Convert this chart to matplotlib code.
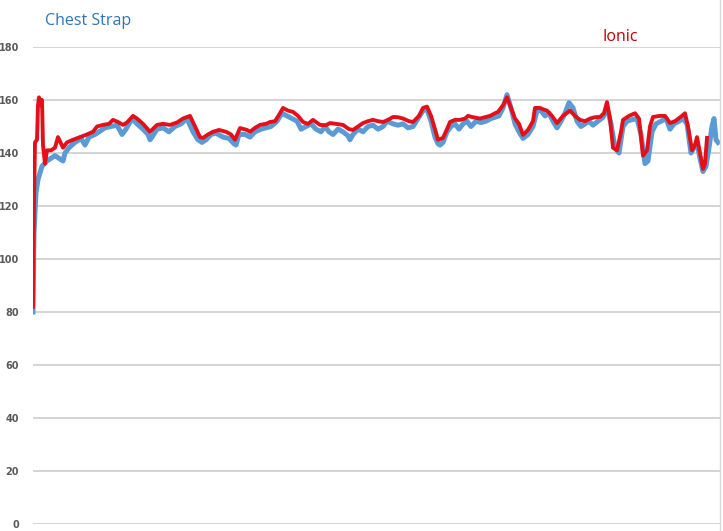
import matplotlib
matplotlib.use("Agg")
import matplotlib.pyplot as plt
from matplotlib.lines import Line2D

# heart rate, elapsed time in sample units
ionic_t = [0, 1, 2, 4, 5, 6, 8, 9, 10, 12, 14, 18, 22, 25, 30, 34, 40, 47, 54, 60,
           64, 70, 76, 80, 85, 90, 94, 100, 104, 110, 117, 124, 130, 137, 144, 150, 157, 162, 167, 170,
           175, 180, 186, 193, 198, 202, 207, 214, 217, 222, 227, 233, 237, 242, 247, 250, 255, 260, 265, 270,
           275, 280, 287, 293, 297, 303, 310, 316, 320, 325, 330, 335, 340, 345, 350, 355, 360, 365, 370, 376,
           380, 386, 390, 394, 398, 402, 405, 410, 414, 417, 422, 427, 432, 435, 440, 447, 452, 457, 462, 465,
           470, 474, 477, 482, 486, 490, 495, 500, 502, 507, 510, 514, 519, 524, 530, 537, 542, 547, 552, 557,
           562, 567, 571, 574, 577, 580, 584, 588, 590, 596, 602, 606, 610, 614, 617, 620, 627, 632, 637, 642,
           649, 652, 655, 659, 662, 664, 667, 670, 672, 674]
ionic_hr = [82, 122, 144, 145, 158, 161, 158, 160, 143, 136, 141, 141, 142, 146, 142, 144, 145, 146, 147, 148,
            150, 150.6, 151, 152.5, 151.7, 150.6, 151.5, 154, 153, 151, 148, 150.6, 151, 150.6, 151.5, 153, 154, 150, 146, 145.7,
            147, 148, 148.7, 148, 147, 145, 149.4, 148.7, 148, 149.5, 150.6, 151, 151.7, 152, 155, 157, 156, 155.5, 154, 151.7,
            151, 152.5, 150.6, 150.5, 151.3, 151, 150.6, 149, 148.7, 150, 151.3, 152, 152.5, 152, 151.7, 152.5, 153.6, 153.5, 153, 152,
            151.7, 154, 157, 157.5, 154, 149, 145, 145.7, 149, 151.7, 152.5, 152.5, 153, 154, 153.5, 153, 153.5, 154, 155, 155.5,
            158, 161, 158, 153, 151, 146.8, 148.7, 152, 157, 157, 156.5, 156, 154, 151.3, 154, 156, 154, 152.5, 152, 153,
            153.5, 153.6, 155, 159.2, 153, 142, 141, 148, 152.5, 154, 155, 153, 139, 141, 150, 153.6, 154, 154, 151.3, 152,
            154, 155, 150, 141, 143, 146, 140, 134, 136, 145.7]

strap_t = [0, 1, 3, 5, 9, 14, 22, 26, 30, 32, 36, 42, 48, 52, 56, 62, 66, 72, 78, 84,
           89, 93, 99, 104, 110, 115, 117, 119, 124, 130, 136, 142, 148, 154, 160, 165, 169, 173, 178, 183, 190,
           196, 201, 203, 206, 212, 217, 222, 228, 233, 238, 244, 249, 254, 259, 264, 268, 273, 278, 283, 288, 292,
           296, 300, 305, 310, 315, 317, 320, 325, 330, 335, 340, 345, 350, 354, 360, 365, 370, 375, 380, 385, 390,
           394, 398, 402, 405, 407, 410, 414, 418, 422, 426, 430, 434, 438, 443, 448, 453, 458, 462, 466, 470, 474,
           478, 482, 486, 490, 495, 500, 504, 508, 512, 516, 520, 524, 528, 532, 536, 540, 544, 548, 552, 556,
           560, 565, 570, 574, 578, 582, 586, 590, 594, 598, 604, 608, 612, 615, 619, 623, 628, 633, 637, 641,
           646, 650, 654, 658, 661, 664, 667, 670, 673, 676, 679, 681, 683, 685]
strap_hr = [80, 110, 125, 130, 135, 137, 139, 138, 137, 140, 142, 144, 145.5, 143, 146, 147, 148, 149.5, 150, 150.5,
            147, 149, 153, 151, 149, 147, 145, 146, 149, 149.5, 148, 150, 151, 153, 148, 145, 144, 145, 147, 147.5, 146,
            145.5, 143.5, 143, 147, 147, 146, 148, 149, 149.5, 150, 152, 155, 154, 153, 152, 149, 150, 151, 149, 148, 150,
            148, 147, 149, 148, 146.5, 145, 147, 149, 148, 150, 150.5, 149, 150, 152, 151, 150.5, 151, 149.5, 150, 153, 156,
            156.5, 152, 146, 143.5, 143, 144, 148, 150, 151, 149, 151, 152, 150, 152, 151.5, 152, 153, 153.5, 154, 157, 162,
            157, 151, 148, 145.5, 147, 150, 156, 156, 154, 155, 152, 149.5, 152, 155, 159, 157, 152, 150, 151, 152,
            150.5, 152, 153.5, 157, 151, 142, 140, 150, 152, 152.5, 153, 147, 136, 137, 148, 151, 152, 153, 149, 151,
            152, 153, 151, 140, 142, 144, 138, 133, 135, 142, 150, 153, 145, 144]

y_ticks = [0, 20, 40, 60, 80, 100, 120, 140, 160, 180]

fig = plt.figure(figsize=(7.23, 5.31), dpi=100)
ax = fig.add_axes([33 / 723, 7 / 531, 687 / 723, 477 / 531])

ax.plot(strap_t, strap_hr, color="#5B9BD5", lw=3.6, solid_joinstyle="round", zorder=3)
ax.plot(ionic_t, ionic_hr, color="#E3101A", lw=2.8, solid_joinstyle="round", zorder=4)

ax.set_xlim(0, 687)
ax.set_ylim(0, 180)
ax.set_yticks(y_ticks)
ax.set_xticks([])
ax.grid(axis="y", color="#D4D4D4", lw=1.4)
ax.set_axisbelow(True)
for s in ax.spines.values():
    s.set_visible(False)
ax.tick_params(axis="y", length=0, pad=10, labelsize=7, labelcolor="#595959")
for lbl in ax.get_yticklabels():
    lbl.set_fontweight("bold")

# series labels placed like the original text boxes
fig.text(45 / 723, 1 - 21 / 531, "Chest Strap", color="#2E75B6", fontsize=11.5,
         family="Open Sans", va="center", ha="left")
fig.text(602 / 723, 1 - 37 / 531, "Ionic", color="#C00000", fontsize=11.5,
         family="Open Sans", va="center", ha="left")

# thin frame edge on the right
fig.add_artist(Line2D([720 / 723, 720 / 723], [0, 1], color="#D9D9D9", lw=1))

fig.savefig("out.png", dpi=100)
